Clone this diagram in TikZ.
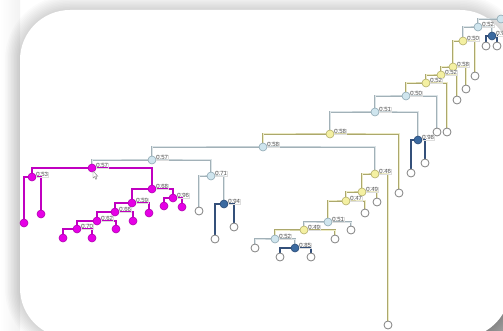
\documentclass[tikz,border=0pt]{standalone}
\usepackage{fontspec}
\newfontfamily\labfont{Liberation Sans}
\usetikzlibrary{calc}
\pgfdeclarelayer{bg}\pgfdeclarelayer{edges}\pgfsetlayers{bg,edges,main}
\definecolor{lbF}{HTML}{CFE5EE}
\definecolor{lbD}{HTML}{8FA8B3}
\definecolor{ylF}{HTML}{F4F0A2}
\definecolor{ylD}{HTML}{B3AE6A}
\definecolor{dbF}{HTML}{3B6AA0}
\definecolor{dbD}{HTML}{2B4C78}
\definecolor{mgF}{HTML}{E600E6}
\definecolor{mgD}{HTML}{B000B0}
\definecolor{lfD}{HTML}{808080}
\definecolor{eLBo}{HTML}{A2B1B8}
\definecolor{eLBi}{HTML}{DCE4E7}
\definecolor{eYLo}{HTML}{ACA86C}
\definecolor{eYLi}{HTML}{EDEBC6}
\definecolor{eDBc}{HTML}{34507A}
\definecolor{eMGc}{HTML}{C000C0}
\definecolor{labT}{HTML}{555555}
\definecolor{labB}{HTML}{DDDDDD}
\tikzset{
  nd/.style={circle, inner sep=0pt, minimum size=8pt, line width=0.6pt},
  lb/.style={nd, fill=lbF, draw=lbD},
  yl/.style={nd, fill=ylF, draw=ylD},
  db/.style={nd, fill=dbF, draw=dbD},
  mg/.style={nd, fill=mgF, draw=mgD},
  lf/.style={nd, fill=white, draw=lfD, line width=0.8pt},
  lab/.style={anchor=south west, font=\labfont\fontsize{6}{6}\selectfont, text=labT, draw=labB, line width=0.3pt, inner sep=0.6pt},
  eLB/.style={draw=eLBo, double=eLBi, double distance=1pt, line width=0.85pt},
  eYL/.style={draw=eYLo, double=eYLi, double distance=1pt, line width=0.85pt},
  eDB/.style={draw=eDBc, line width=2.3pt},
  eMG/.style={draw=eMGc, line width=2pt},
}
\newcommand\tn[5]{\node[#2] (#1) at (#3,#4) {};\node[lab] (#1-l) at (#3+3.5,#4+0.5) {#5};}
\newcommand\br[4]{\draw[#1] (#3.center) |- (#2.center) -| (#4.center);}
\begin{document}
\begin{tikzpicture}[x=1pt,y=-1pt]
\useasboundingbox (0,0) rectangle (503,331);
\clip (0,0) rectangle (503,331);
\begin{pgfonlayer}{bg}
\fill[white] (0,0) rectangle (503,331);
\shade[left color=white, right color=black!5] (0,0) rectangle (20,331);
\fill[black!35] (450,290) rectangle (503,331);
\foreach \w in {3,6,...,30} \draw[black, opacity=0.014, line width={\w pt}, rounded corners=50pt] (20,10) rectangle (510,338);
\fill[white, rounded corners=50pt] (20,10) rectangle (510,338);
\end{pgfonlayer}

% top chain
\node[lb] (t0) at (501,19) {};
\tn{t1}{lb}{478}{27}{0.52}
\tn{t2}{db}{492}{36}{0.98}
\node[lf] (t2a) at (486,46) {};
\node[lf] (t2b) at (497,46) {};
\tn{t3}{yl}{463}{41}{0.50}
\node[lf] (t3b) at (475,76) {};
\tn{t4}{yl}{453}{67}{0.58}
\node[lf] (t4b) at (466,89) {};
\tn{t5}{yl}{441}{75}{0.52}
\node[lf] (t5b) at (457,100) {};
\tn{t6}{yl}{426}{83}{0.52}
\node[lf] (t6b) at (447,132) {};
\tn{t7}{lb}{406}{96}{0.50}
\node[lf] (t7b) at (437,132) {};
\tn{t8}{lb}{375}{112}{0.51}
\tn{t8r}{db}{418}{140}{0.98}
\node[lf] (t8ra) at (411,173) {};
\node[lf] (t8rb) at (425,163) {};
\tn{t9}{yl}{330}{134}{0.58}
\node[lf] (t9b) at (399,193) {};
\tn{t10}{lb}{263}{147}{0.58}

% left part
\tn{a}{lb}{152}{160}{0.57}
\tn{a2}{lb}{211}{176}{0.71}
\node[lf] (a2a) at (199,211) {};
\tn{a3}{db}{224}{204}{0.94}
\node[lf] (a3a) at (215,239) {};
\node[lf] (a3b) at (234,227) {};
\tn{m1}{mg}{92}{168}{0.57}
\tn{m2}{mg}{32}{177}{0.53}
\node[mg] (m2a) at (24,223) {};
\node[mg] (m2b) at (41,214) {};
\tn{m3}{mg}{152}{189}{0.68}
\tn{m4}{mg}{173}{198}{0.96}
\node[mg] (m4a) at (164,206) {};
\node[mg] (m4b) at (182,207) {};
\tn{m5}{mg}{132}{203}{0.59}
\node[mg] (m5b) at (149,213) {};
\tn{m6}{mg}{115}{212}{0.66}
\node[mg] (m6b) at (133,221) {};
\tn{m7}{mg}{97}{221}{0.62}
\node[mg] (m7b) at (116,229) {};
\tn{m8}{mg}{77}{229}{0.70}
\node[mg] (m8a) at (63,238) {};
\node[mg] (m8b) at (92,238) {};

% right part
\tn{b}{yl}{375}{174}{0.46}
\node[lf] (bR) at (388,325) {};
\tn{b2}{yl}{362}{192}{0.49}
\node[lf] (b2r) at (377,202) {};
\tn{b3}{yl}{346}{201}{0.47}
\node[lf] (b3r) at (365,213) {};
\tn{b4}{lb}{328}{222}{0.51}
\node[lf] (b4r) at (351,230) {};
\tn{b5}{yl}{304}{230}{0.49}
\node[lf] (b5r) at (335,239) {};
\tn{b6}{lb}{275}{239}{0.52}
\node[lf] (b6l) at (255,248) {};
\tn{b7}{db}{295}{248}{0.85}
\node[lf] (b7a) at (280,257) {};
\node[lf] (b7b) at (311,257) {};

% cursor
\draw[gray, fill=white, line width=0.4pt, shift={(93,171)}] (0,0) -- (0,7) -- (1.6,5.6) -- (2.8,8.3) -- (3.9,7.8) -- (2.7,5.2) -- (4.8,5.2) -- cycle;

\begin{pgfonlayer}{edges}
\draw[eLB] (t1.center) |- (t0.center) -- +(10,0);
\br{eLB}{t1}{t3}{t2}
\br{eDB}{t2}{t2a}{t2b}
\br{eYL}{t3}{t4}{t3b}
\br{eYL}{t4}{t5}{t4b}
\br{eYL}{t5}{t6}{t5b}
\br{eYL}{t6}{t7}{t6b}
\br{eLB}{t7}{t8}{t7b}
\br{eLB}{t8}{t9}{t8r}
\br{eDB}{t8r}{t8ra}{t8rb}
\br{eYL}{t9}{t10}{t9b}
\br{eLB}{t10}{a}{b}
\br{eLB}{a}{m1}{a2}
\br{eLB}{a2}{a2a}{a3}
\br{eDB}{a3}{a3a}{a3b}
\br{eMG}{m1}{m2}{m3}
\br{eMG}{m2}{m2a}{m2b}
\br{eMG}{m3}{m5}{m4}
\br{eMG}{m4}{m4a}{m4b}
\br{eMG}{m5}{m6}{m5b}
\br{eMG}{m6}{m7}{m6b}
\br{eMG}{m7}{m8}{m7b}
\br{eMG}{m8}{m8a}{m8b}
\br{eYL}{b}{b2}{bR}
\br{eYL}{b2}{b3}{b2r}
\br{eYL}{b3}{b4}{b3r}
\br{eLB}{b4}{b5}{b4r}
\br{eYL}{b5}{b6}{b5r}
\br{eLB}{b6}{b6l}{b7}
\br{eDB}{b7}{b7a}{b7b}
\end{pgfonlayer}
\end{tikzpicture}
\end{document}
